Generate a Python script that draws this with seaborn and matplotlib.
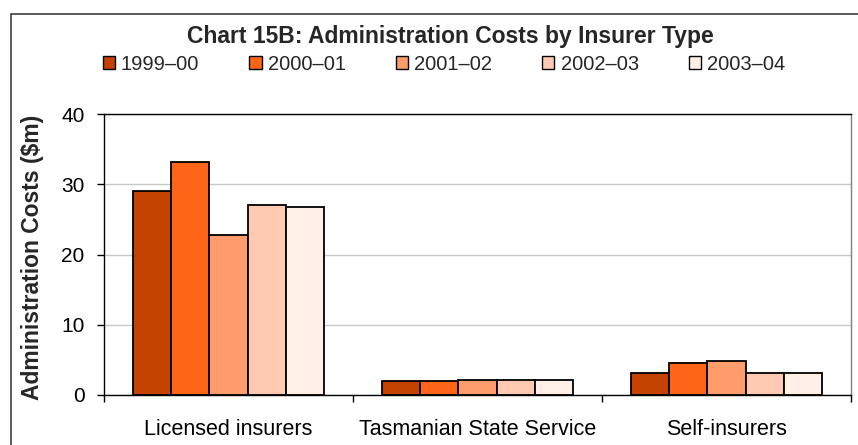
import matplotlib
matplotlib.use("Agg")
import matplotlib.pyplot as plt
from matplotlib.patches import Rectangle
import pandas as pd
import seaborn as sns

# Administration costs ($m) per insurer type and financial year
insurer_types = ["Licensed insurers", "Tasmanian State Service", "Self-insurers"]
years = ["1999\u201300", "2000\u201301", "2001\u201302", "2002\u201303", "2003\u201304"]
licensed = [29.1, 33.1, 22.8, 27.1, 26.8]
state_service = [2.0, 2.0, 2.2, 2.2, 2.2]
self_insurers = [3.1, 4.6, 4.9, 3.1, 3.1]
year_colors = ["#C44300", "#FF6518", "#FF9C6C", "#FFCAB1", "#FFEFE7"]

rows = []
for ins, vals in zip(insurer_types, [licensed, state_service, self_insurers]):
    for yr, v in zip(years, vals):
        rows.append({"Insurer": ins, "Year": yr, "Cost": v})
df = pd.DataFrame(rows)

sns.set_theme(style="white")
plt.rcParams["font.family"] = ["Liberation Sans", "DejaVu Sans"]

fig = plt.figure(figsize=(8.58, 4.45), dpi=100)
ax = fig.add_axes([104 / 858, 1 - 395 / 445, (851 - 104) / 858, (395 - 114) / 445])

sns.barplot(data=df, x="Insurer", y="Cost", hue="Year", hue_order=years,
            order=insurer_types, palette=year_colors, width=0.765,
            edgecolor="black", linewidth=1.3, saturation=1, ax=ax,
            legend=False)

ax.set_xlim(-0.5, 2.5)
ax.set_ylim(0, 40)
ax.set_yticks([0, 10, 20, 30, 40])
ax.yaxis.grid(True, color="#C8C8C8", linewidth=1.0)
ax.set_axisbelow(True)
ax.set_xlabel("")
ax.set_ylabel("Administration Costs ($m)", fontsize=16.5, fontweight="bold")
ax.yaxis.set_label_coords(-0.08, 0.49)

for side in ["left", "bottom", "top"]:
    ax.spines[side].set_color("black")
    ax.spines[side].set_linewidth(1.0)
ax.spines["right"].set_color("#808080")
ax.spines["right"].set_linewidth(1.0)

ax.tick_params(axis="y", which="major", left=True, length=5, width=1, color="black",
               labelsize=15, pad=9, labelcolor="black")
ax.tick_params(axis="x", which="major", bottom=False, labelsize=15.5, pad=11,
               labelcolor="black")
ax.set_xticks([-0.5, 0.5, 1.5, 2.5], minor=True)
ax.tick_params(axis="x", which="minor", bottom=True, length=5, width=1, color="black")

# legend row above the plot
handles = [Rectangle((0, 0), 1, 1, facecolor=c, edgecolor="black", linewidth=1.0)
           for c in year_colors]
fig.legend(handles, years, loc="center", bbox_to_anchor=(444 / 858, 1 - 64 / 445),
           ncol=5, frameon=False, fontsize=14.5, handlelength=0.6, handleheight=0.6,
           handletextpad=0.3, columnspacing=2.5, borderaxespad=0)

fig.text(450 / 858, 1 - 36 / 445, "Chart 15B: Administration Costs by Insurer Type",
         ha="center", va="center", fontsize=16.5, fontweight="bold")

# outer chart frame
fig.patches.append(Rectangle((11 / 858, -0.1), 1.2, 1.1 - 14.5 / 445,
                             transform=fig.transFigure, fill=False,
                             edgecolor="#404040", linewidth=1.2, clip_on=False))

fig.savefig("out.png", dpi=100)
